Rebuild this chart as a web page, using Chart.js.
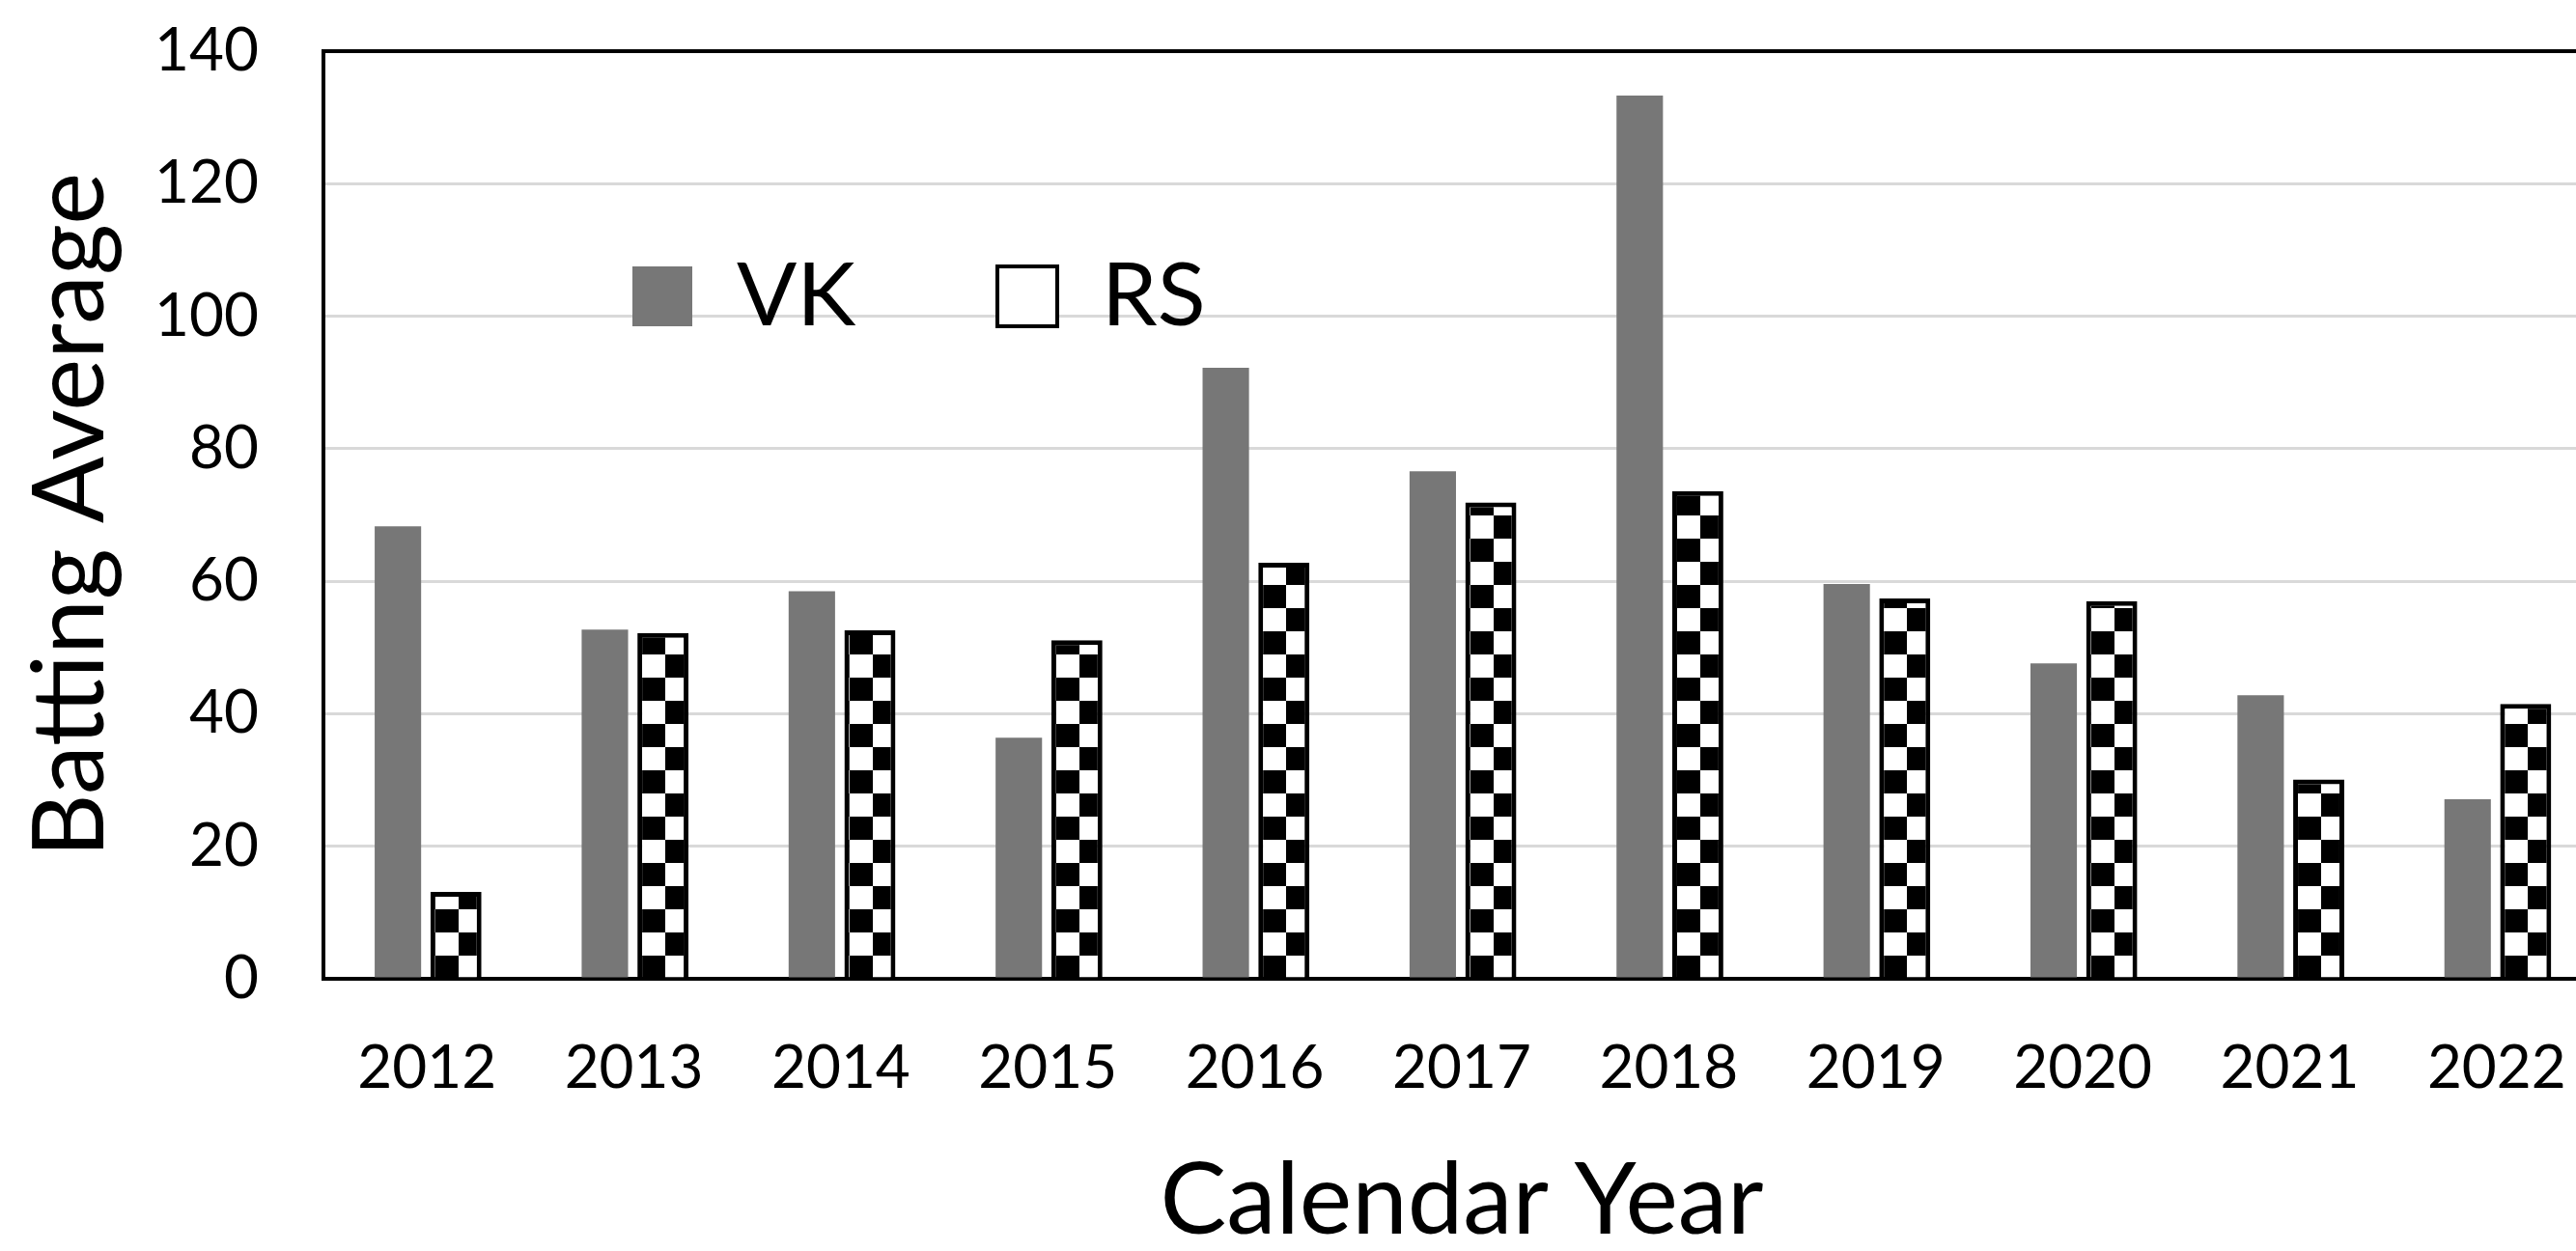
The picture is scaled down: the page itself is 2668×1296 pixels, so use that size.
<!DOCTYPE html>
<html>
<head>
<meta charset="utf-8">
<script src="https://cdn.jsdelivr.net/npm/chart.js@4.4.1/dist/chart.umd.min.js"></script>
<style>
  html, body { margin: 0; padding: 0; background: #fff; overflow: hidden; }
  #wrap { position: relative; width: 2700px; height: 1296px; }
</style>
</head>
<body>
<div id="wrap"><canvas id="c"></canvas></div>
<script>
// ---- data ----
const years = ['2012','2013','2014','2015','2016','2017','2018','2019','2020','2021','2022'];
const vkAvg = [68.3, 52.7, 58.5, 36.4, 92.2, 76.6, 133.3, 59.6, 47.6, 42.8, 27.1];
const rsAvg = [13.1, 52.2, 52.6, 51.1, 62.8, 71.9, 73.6, 57.4, 57.0, 30.1, 41.5];
const seriesNames = ['VK', 'RS'];
const yTicks = [0, 20, 40, 60, 80, 100, 120, 140];
const xTitle = 'Calendar Year';
const yTitle = 'Batting Average';

// ---- styling ----
const FONT = 'Lato';
const GRAY = '#777777';
const CP = 0.561;      // category percentage
const BP_VK = 0.80;
const BP_RS = 0.88;
const RS_BORDER = 5;
const CELL = 24;

// checker tile
const tile = document.createElement('canvas');
tile.width = CELL * 2; tile.height = CELL * 2;
const tctx = tile.getContext('2d');
tctx.fillStyle = '#fff'; tctx.fillRect(0, 0, CELL * 2, CELL * 2);
tctx.fillStyle = '#000';
tctx.fillRect(CELL, 0, CELL, CELL);
tctx.fillRect(0, CELL, CELL, CELL);

const canvas = document.getElementById('c');
const c2d = canvas.getContext('2d');

function checker(ctx) {
  const chart = ctx.chart;
  const xs = chart.scales && chart.scales.x;
  const pat = c2d.createPattern(tile, 'repeat');
  if (!xs || ctx.dataIndex === undefined) return pat;
  const c = xs.getPixelForValue(ctx.dataIndex);
  const cat = (xs.right - xs.left) / years.length;
  const slot = cat * CP / 2;
  const left = c + slot / 2 - slot * BP_RS / 2 + RS_BORDER;
  const bottom = chart.chartArea ? chart.chartArea.bottom : 0;
  if (isFinite(left) && isFinite(bottom) && pat.setTransform) {
    try { pat.setTransform(new DOMMatrix().translateSelf(Math.round(left), Math.round(bottom))); } catch (e) {}
  }
  return pat;
}

// legend geometry
const LEG_FONT = 92;
const LEG_BOX = 62;
const mctx = document.createElement('canvas').getContext('2d');
mctx.font = LEG_FONT + 'px ' + FONT;
const vkW = mctx.measureText(seriesNames[0]).width;
const LEG_PAD = Math.max(4, 378 - LEG_BOX - LEG_FONT / 2 - vkW);
const LEG_BOX_X = 655;   // box left (relative to canvas)
const LEG_CENTER_Y = 307;

const legendMover = {
  id: 'legendMover',
  beforeLayout(chart) {
    if (chart.legend) chart.legend.isHorizontal = () => true;
  },
  afterLayout(chart) {
    const lg = chart.legend;
    if (!lg) return;
    const h = lg.height, w = lg.width;
    lg.left = LEG_BOX_X - LEG_PAD;
    lg.top = LEG_CENTER_Y - LEG_FONT / 2 - LEG_PAD;
    lg.right = lg.left + w; lg.bottom = lg.top + h;
  }
};

new Chart(canvas, {
  type: 'bar',
  data: {
    labels: years,
    datasets: [
      {
        label: seriesNames[0],
        data: vkAvg,
        backgroundColor: GRAY,
        borderWidth: 0,
        barPercentage: BP_VK,
        categoryPercentage: CP
      },
      {
        label: seriesNames[1],
        data: rsAvg,
        backgroundColor: checker,
        borderColor: '#000',
        borderWidth: RS_BORDER,
        borderSkipped: 'start',
        barPercentage: BP_RS,
        categoryPercentage: CP
      }
    ]
  },
  options: {
    responsive: true,
    maintainAspectRatio: false,
    animation: false,
    events: [],
    layout: { padding: { top: 53, right: 7, left: 0, bottom: 0 } },
    plugins: {
      tooltip: { enabled: false },
      legend: {
        position: 'chartArea',
        align: 'start',
        labels: {
          color: '#000',
          font: { family: FONT, size: LEG_FONT },
          boxWidth: LEG_BOX,
          boxHeight: LEG_BOX,
          padding: LEG_PAD,
          generateLabels(chart) {
            const items = Chart.defaults.plugins.legend.labels.generateLabels(chart);
            items.forEach((it, i) => {
              if (i === 1) { it.fillStyle = '#fff'; it.strokeStyle = '#000'; it.lineWidth = 4; }
              else { it.fillStyle = GRAY; it.lineWidth = 0; }
            });
            return items;
          }
        }
      }
    },
    scales: {
      x: {
        grid: { display: false, drawTicks: false },
        border: { display: true, color: '#000', width: 4 },
        ticks: {
          color: '#000',
          font: { family: FONT, size: 62 },
          padding: 56,
          autoSkip: false,
          maxRotation: 0
        },
        title: {
          display: true,
          text: xTitle,
          color: '#000',
          font: { family: FONT, size: 103, lineHeight: 1 },
          padding: { top: 0, bottom: 0 }
        },
        afterFit(scale) { scale.height = 282; scale.paddingLeft = 0; scale.paddingRight = 0; }
      },
      y: {
        min: 0,
        max: 140,
        afterBuildTicks(scale) { scale.ticks = yTicks.map(v => ({ value: v })); },
        grid: {
          drawTicks: false,
          color: (ctx) => (ctx.tick && ctx.tick.value === 140 ? '#000' : '#d9d9d9'),
          lineWidth: (ctx) => (ctx.tick && ctx.tick.value === 140 ? 4 : 3)
        },
        border: { display: true, color: '#000', width: 4 },
        ticks: {
          color: '#000',
          font: { family: FONT, size: 62 },
          padding: 67
        },
        title: {
          display: true,
          text: yTitle,
          color: '#000',
          font: { family: FONT, size: 102, lineHeight: 1 },
          padding: { top: 23, bottom: 0 }
        },
        afterFit(scale) { scale.width = 335; scale.paddingTop = 0; scale.paddingBottom = 0; }
      }
    }
  },
  plugins: [legendMover]
});
</script>
</body>
</html>
